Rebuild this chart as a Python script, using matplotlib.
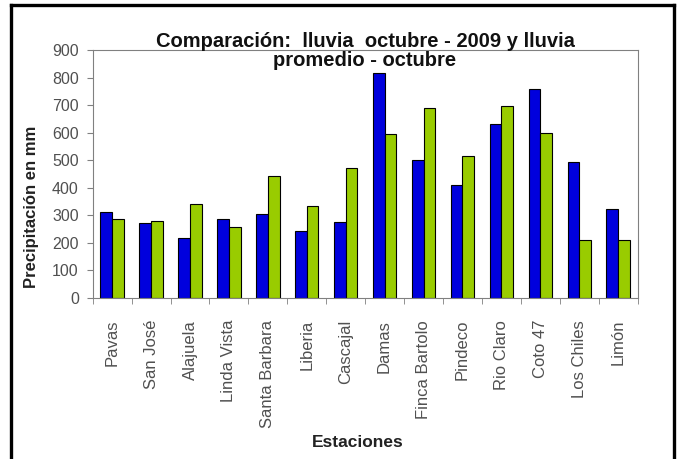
import matplotlib.pyplot as plt
import numpy as np
from matplotlib.lines import Line2D

plt.rcParams['font.family'] = ['Liberation Sans', 'DejaVu Sans']

estaciones = ['Pavas', 'San José', 'Alajuela', 'Linda Vista', 'Santa Barbara',
              'Liberia', 'Cascajal', 'Damas', 'Finca Bartolo', 'Pindeco',
              'Rio Claro', 'Coto 47', 'Los Chiles', 'Limón']
lluvia_2009 = [312, 273, 218, 285, 303, 243, 276, 815, 500, 409, 630, 757, 494, 321]
lluvia_promedio = [285, 279, 339, 258, 442, 333, 472, 594, 690, 515, 696, 597, 210, 210]

fig = plt.figure(figsize=(6.79, 4.59), dpi=100)
ax = fig.add_axes([0.1365, 0.3514, 0.8025, 0.5396])

x = np.arange(len(estaciones))
w = 0.3
ax.bar(x - w / 2, lluvia_2009, w, color='#0000dd', edgecolor='black', linewidth=0.8)
ax.bar(x + w / 2, lluvia_promedio, w, color='#99cc00', edgecolor='black', linewidth=0.8)

ax.set_xlim(-0.5, len(estaciones) - 0.5)
ax.set_ylim(0, 900)
ax.set_yticks(range(0, 901, 100))
ax.tick_params(axis='y', labelsize=11.5, labelcolor='#505050', color='#808080',
               length=4, direction='out', pad=6)

ax.set_xticks(x)
ax.set_xticklabels(estaciones, rotation=90, fontsize=12, color='#505050')
ax.tick_params(axis='x', which='major', length=0, pad=16)
ax.set_xticks(np.arange(-0.5, len(estaciones), 1), minor=True)
ax.tick_params(axis='x', which='minor', length=4, color='#808080', direction='out')

for s in ax.spines.values():
    s.set_color('#808080')
    s.set_linewidth(0.8)

fig.text(0.5375, 0.888, 'Comparación:  lluvia  octubre - 2009 y lluvia\npromedio - octubre',
         ha='center', va='center', fontsize=14.5, fontweight='bold', linespacing=1.0,
         color='#111111')
fig.text(0.527, 0.035, 'Estaciones', ha='center', va='center',
         fontsize=12.5, fontweight='bold', color='#222222')
fig.text(0.047, 0.549, 'Precipitación en mm', ha='center', va='center', rotation=90,
         fontsize=12, fontweight='bold', color='#222222')

# black frame around the chart (open at the bottom)
for xs, ys in [([0.0165, 0.0165], [0.0, 0.989]),
               ([0.0165, 0.9925], [0.989, 0.989]),
               ([0.9925, 0.9925], [0.0, 0.989])]:
    fig.add_artist(Line2D(xs, ys, color='black', linewidth=2.4, transform=fig.transFigure))

fig.savefig('out.png', dpi=100)
